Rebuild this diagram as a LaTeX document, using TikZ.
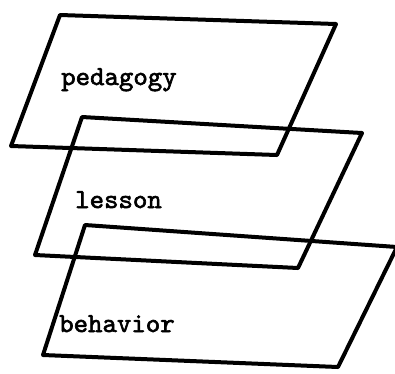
\documentclass[tikz,border=0pt]{standalone}
\usepackage{fontspec}
\usepackage{tikz}
\usetikzlibrary{positioning, calc}
\usepackage{xcolor}
\newfontfamily\typewriter[FakeBold=2.2]{lmmono10-regular.otf}
\definecolor{InkBlack}{HTML}{000000}
\tikzset{
    % Plane outlines - open parallelograms
    plane/.style={
        draw=InkBlack,
        line width=4pt,
        line join=round,
        line cap=round
    },
    % Typed labels
    typed/.style={
        anchor=base west,
        inner sep=0pt,
        font=\typewriter\fontsize{27.5}{30}\selectfont,
        text=InkBlack
    }
}
\begin{document}
\begin{tikzpicture}[x=1pt, y=-1pt]
    \useasboundingbox (0,0) rectangle (395,373);

    % pedagogy plane
    \coordinate (pedTL) at (60,15);
    \coordinate (pedTR) at (336,24);
    \coordinate (pedBR) at (277,155);
    \coordinate (pedBL) at (11,146);
    \draw[plane] (pedTL) -- (pedTR) -- (pedBR) -- (pedBL) -- cycle;
    \node[typed] (ped) at (61,85) {pedagogy};

    % lesson plane
    \coordinate (lesTL) at (82,117);
    \coordinate (lesTR) at (362,133);
    \coordinate (lesBR) at (298,268);
    \coordinate (lesBL) at (35,255);
    \draw[plane] (lesTL) -- (lesTR) -- (lesBR) -- (lesBL) -- cycle;
    \node[typed] (les) at (75,208) {lesson};

    % behavior plane
    \coordinate (behTL) at (85,225);
    \coordinate (behTR) at (397,247);
    \coordinate (behBR) at (338,367);
    \coordinate (behBL) at (43,355);
    \draw[plane] (behTL) -- (behTR) -- (behBR) -- (behBL) -- cycle;
    \node[typed] (beh) at (59,332) {behavior};
\end{tikzpicture}
\end{document}
